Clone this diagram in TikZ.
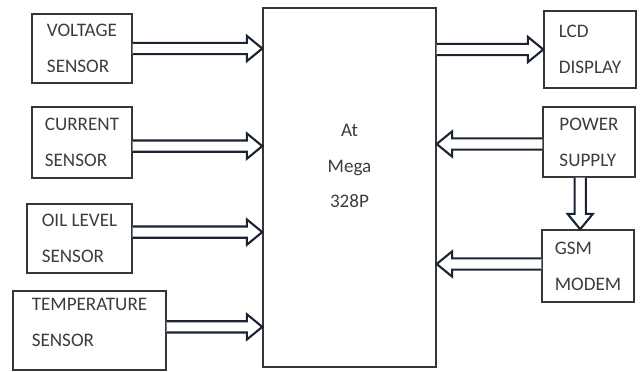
\documentclass[tikz,border=0pt]{standalone}
\usepackage{fontspec}
\setmainfont{Carlito}
\usetikzlibrary{calc}

\definecolor{boxline}{RGB}{55,55,55}
\definecolor{busline}{RGB}{25,35,50}
\definecolor{labeltext}{RGB}{60,60,60}

\tikzset{
    block/.style={draw=boxline, line width=1pt, minimum width=#1, align=left,
        font=\fontsize{13.6}{15}\selectfont, text=labeltext},
    bus/.style={draw=busline, line width=1.5pt, fill=white, line join=miter,
        to path={let \p1=(\tikztostart), \p2=(\tikztotarget),
            \n1={veclen(\x2-\x1,\y2-\y1)}, \n2={(\x2-\x1)/\n1}, \n3={(\y2-\y1)/\n1} in
            (\x1-\n3*4pt, \y1+\n2*4pt)
            -- (\x2-\n2*11pt-\n3*4pt, \y2-\n3*11pt+\n2*4pt)
            -- (\x2-\n2*11pt-\n3*9pt, \y2-\n3*11pt+\n2*9pt)
            -- (\x2, \y2)
            -- (\x2-\n2*11pt+\n3*9pt, \y2-\n3*11pt-\n2*9pt)
            -- (\x2-\n2*11pt+\n3*4pt, \y2-\n3*11pt-\n2*4pt)
            -- (\x1+\n3*4pt, \y1-\n2*4pt)}}
}

\begin{document}
\begin{tikzpicture}
        \useasboundingbox (0, 0) rectangle (16, -9.3);

        % Microcontroller
        \node [draw=boxline, line width=1pt, minimum width=4.325cm, minimum height=8.975cm] (mcu) at (8.7375, -4.6875) {};
        \node [align=center, font=\fontsize{13.6}{15}\selectfont, text=labeltext] (mcutext) at (8.7375, -4.15) {At\\[10.5pt]Mega\\[10.5pt]328P};

        % Sensors on the left
        \node [block=2.5cm, minimum height=1.725cm] (volt) at (2.05, -1.2125) {VOLTAGE\\[10.5pt]SENSOR};
        \node [block=2.5cm, minimum height=1.775cm] (curr) at (2.05, -3.5625) {CURRENT\\[10.5pt]SENSOR};
        \node [block=2.625cm, minimum height=1.725cm] (oil) at (1.9875, -5.9625) {OIL LEVEL\\[10.5pt]SENSOR};
        \node [block=3.825cm, minimum height=1.975cm] (temp) at (2.2375, -8.2625) {TEMPERATURE\\[10.5pt]SENSOR\rule[-12pt]{0pt}{0pt}};

        % Blocks on the right
        \node [block=2.3cm, minimum height=1.925cm] (lcd) at (14.75, -1.2375) {LCD\\[10.5pt]DISPLAY};
        \node [block=2.3cm, minimum height=1.75cm] (power) at (14.725, -3.55) {POWER\\[10.5pt]SUPPLY};
        \node [block=2.3cm, minimum height=1.8cm] (gsm) at (14.7, -6.65) {GSM\\[10.5pt]MODEM};

        % Inputs
        \draw [bus] (volt.east) to (volt.east -| mcu.west);
        \draw [bus] ([yshift=-0.09cm]curr.east) to ([yshift=-0.09cm]curr.east -| mcu.west);
        \draw [bus] ([yshift=0.16cm]oil.east) to ([yshift=0.16cm]oil.east -| mcu.west);
        \draw [bus] ([yshift=0.09cm]temp.east) to ([yshift=0.09cm]temp.east -| mcu.west);

        % Outputs and supply
        \draw [bus] (lcd.west -| mcu.east) to (lcd.west);
        \draw [bus] ([yshift=-0.05cm]power.west) to ([yshift=-0.05cm]power.west -| mcu.east);
        \draw [bus] ([yshift=0.05cm]gsm.west) to ([yshift=0.05cm]gsm.west -| mcu.east);
        \draw [bus] ([xshift=-0.22cm]power.south) to ([xshift=-0.22cm]power.south |- gsm.north);
    \end{tikzpicture}
\end{document}
